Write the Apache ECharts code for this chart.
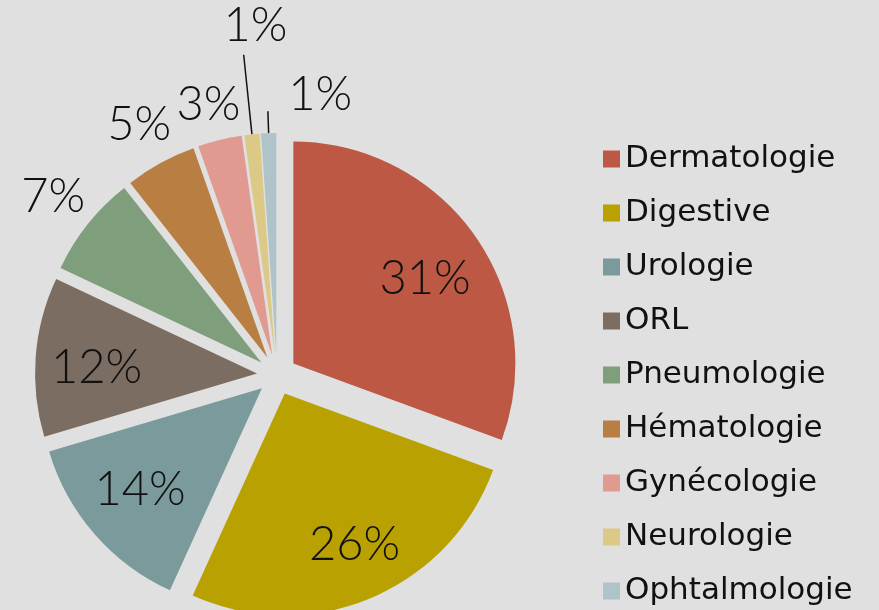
<!DOCTYPE html>
<html>
<head>
<meta charset="utf-8">
<script src="https://cdn.jsdelivr.net/npm/echarts@6/dist/echarts.min.js"></script>
<style>
  html, body { margin: 0; padding: 0; background: #e0e0e0; }
  #chart { width: 879px; height: 610px; }
</style>
</head>
<body>
<div id="chart"></div>
<script>
const categories = ['Dermatologie', 'Digestive', 'Urologie', 'ORL', 'Pneumologie',
  'Hématologie', 'Gynécologie', 'Neurologie', 'Ophtalmologie']
const values = [30.6, 26.2, 13.6, 11.6, 7.4, 5.2, 3.2, 1.1, 1.1]
const colors = ['#bc5843', '#b8a100', '#7b9a9b', '#7b6d62', '#7f9e7c',
  '#b97e41', '#e09a90', '#dcc985', '#aec4c8']

// gros secteurs : étiquette dedans, petits : dehors
const insideNames = ['Dermatologie', 'Digestive', 'Urologie', 'ORL']

const LABEL_FONT = 'Lato, "Noto Sans", sans-serif'
const LEGEND_FONT = '"DejaVu Sans", sans-serif'
const CENTER = [277, 375]
const R = 222
const OFFSET = 20

const pct = p => Math.round(p.percent) + '%'

// petits décalages des étiquettes (par nom)
const labelShift = {
  Dermatologie: [-2, 9],
  Digestive: [7, 1],
  Urologie: [1, -5],
  ORL: [2, 7],
  Gynécologie: [-1, 8],
  Neurologie: [8, -65],
  Ophtalmologie: [53, 6]
}
const shiftLayout = params => {
  const s = labelShift[categories[params.dataIndex]] || [0, 0]
  return { dx: s[0], dy: s[1], hideOverlap: false }
}

// traits de rappel pour les deux 1 %
const leaderLen = { Neurologie: 80, Ophtalmologie: 22 }

const mainData = categories.map((name, i) => {
  const item = { name, value: values[i], selected: true, itemStyle: { color: colors[i] } }
  if (leaderLen[name]) {
    item.label = { show: true, position: 'outside', color: 'transparent' }
    item.labelLine = { show: true, length: leaderLen[name], length2: 0 }
  }
  return item
})

const innerData = categories.map((name, i) => ({
  name, value: values[i], selected: true,
  label: { show: insideNames.includes(name) }
}))

const outerData = categories.map((name, i) => ({
  name, value: values[i], selected: true,
  label: { show: !insideNames.includes(name) }
}))

const ringBase = {
  type: 'pie',
  center: CENTER,
  startAngle: 90,
  selectedMode: 'multiple',
  selectedOffset: OFFSET,
  silent: true,
  avoidLabelOverlap: false,
  itemStyle: { color: 'rgba(0,0,0,0)' },
  label: {
    position: 'inside',
    color: '#111',
    fontFamily: LABEL_FONT,
    fontWeight: 300,
    fontSize: 47,
    rotate: 0,
    formatter: pct
  },
  labelLine: { show: false },
  labelLayout: shiftLayout,
  emphasis: { disabled: true }
}

const chart = echarts.init(document.getElementById('chart'))
chart.setOption({
  backgroundColor: '#e0e0e0',
  animation: false,
  legend: {
    orient: 'vertical',
    left: 603,
    top: 142,
    height: 480,
    padding: 0,
    data: categories,
    icon: 'rect',
    itemWidth: 17,
    itemHeight: 17,
    itemGap: 20,
    selectedMode: false,
    textStyle: { fontFamily: LEGEND_FONT, fontSize: 31, color: '#111', lineHeight: 34 }
  },
  series: [
    {
      type: 'pie',
      center: CENTER,
      radius: R,
      startAngle: 90,
      selectedMode: 'multiple',
      selectedOffset: OFFSET,
      avoidLabelOverlap: false,
      label: { show: false, fontSize: 20 },
      labelLine: { show: false, lineStyle: { color: '#111', width: 1.5 } },
      emphasis: { disabled: true },
      data: mainData
    },
    { ...ringBase, radius: [98, R], data: innerData },
    { ...ringBase, radius: [243, 283], data: outerData }
  ]
})
</script>
</body>
</html>
